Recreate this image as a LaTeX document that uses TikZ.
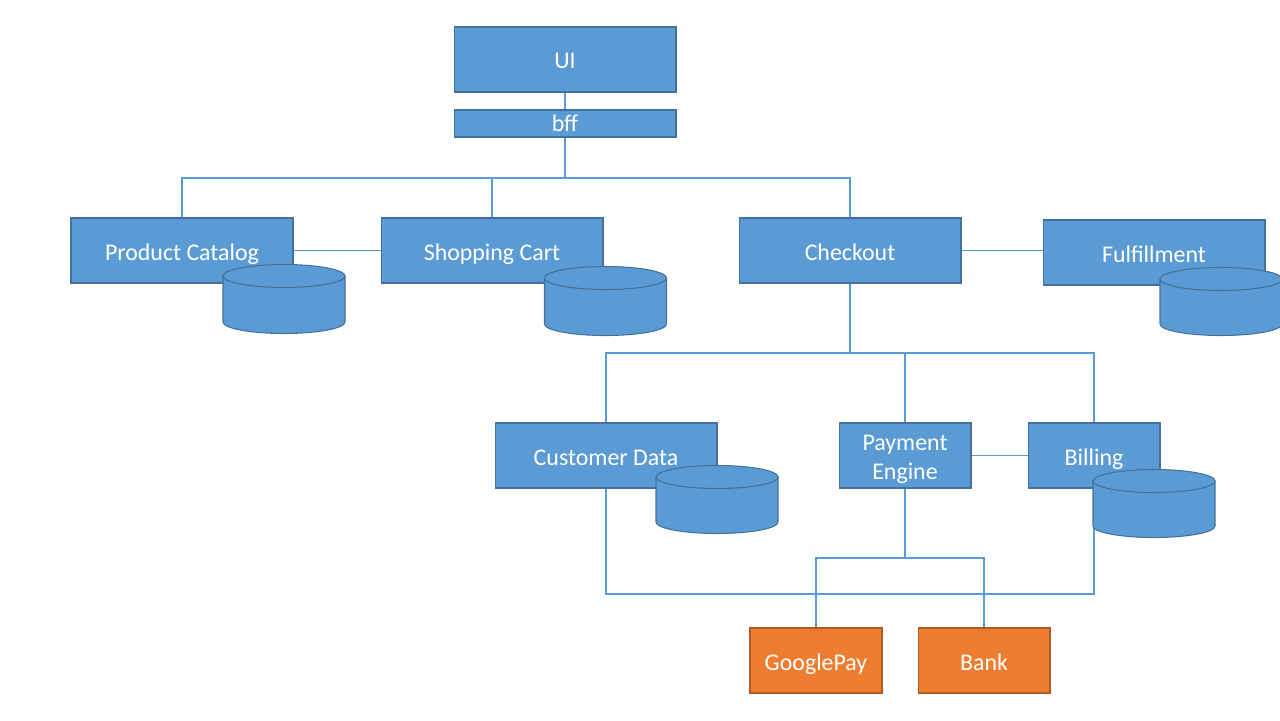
\documentclass[tikz,border=0pt]{standalone}
\usepackage{fontspec}
\setmainfont{Carlito}
\definecolor{boxblue}{RGB}{91, 155, 213}
\definecolor{boxedge}{RGB}{65, 113, 156}
\definecolor{extorange}{RGB}{237, 125, 49}
\definecolor{extedge}{RGB}{174, 90, 33}
\usepackage{tikz}

\tikzset{
  pics/dbstore/.style={code={
    \filldraw[fill=boxblue, draw=boxedge, line width=0.6pt]
      (-61,0) -- (-61,#1) arc[start angle=180, end angle=0, x radius=61, y radius=11.5] -- (61,0) -- cycle;
    \filldraw[fill=boxblue, draw=boxedge, line width=0.6pt] (0,0) ellipse [x radius=61, y radius=11.5];
  }}
}

\begin{document}
\begin{tikzpicture}[x=0.02cm, y=-0.02cm,
    service/.style={draw=boxedge, fill=boxblue, line width=0.6pt, text=white, inner sep=0pt,
      minimum width=4.44cm, minimum height=1.3cm, align=center,
      text height=0.38cm, text depth=0pt, font=\fontsize{13.6}{16.5}\selectfont},
    smallsvc/.style={service, minimum width=2.64cm},
    external/.style={smallsvc, draw=extedge, fill=extorange},
    link/.style={draw=boxblue, line width=0.6pt}]
  \useasboundingbox (0,0) rectangle (1280,720);

  % Front end
  \node[service] (ui) at (565, 59.5) {UI};
  \node[service, minimum height=0.54cm, text height=0.3cm] (bff) at (565, 123.5) {bff};

  % Core services
  \node[service] (catalog) at (182, 250.5) {Product Catalog};
  \node[service] (cart) at (492, 250.5) {Shopping Cart};
  \node[service] (checkout) at (850, 250.5) {Checkout};
  \node[service] (fulfil) at (1154, 252.5) {Fulfillment};

  % Checkout services
  \node[service] (customer) at (606, 455.5) {Customer Data};
  \node[smallsvc, text height=0.96cm] (payment) at (905, 455.5) {Payment\\Engine};
  \node[smallsvc] (billing) at (1094, 455.5) {Billing};

  % Payment providers
  \node[external] (gpay) at (816, 660.5) {GooglePay};
  \node[external] (bank) at (984, 660.5) {Bank};

  % Connectors
  \coordinate (topbus) at (565, 178);
  \coordinate (midbus) at (850, 353);
  \coordinate (lowbus) at (606, 594);
  \coordinate (paybus) at (905, 558);
  \draw[link] (ui.south) -- (bff.north);
  \draw[link] (bff.south) -- (topbus);
  \draw[link] (catalog.north) -- (catalog.north |- topbus) -- (checkout.north |- topbus) -- (checkout.north);
  \draw[link] (cart.north) -- (cart.north |- topbus);
  \draw[link] (catalog.east) -- (cart.west);
  \draw[link] (checkout.east) -- (checkout.east -| fulfil.west);
  \draw[link] (checkout.south) -- (midbus);
  \draw[link] (customer.north) -- (customer.north |- midbus) -- (billing.north |- midbus) -- (billing.north);
  \draw[link] (payment.north) -- (payment.north |- midbus);
  \draw[link] (payment.east) -- (billing.west);
  \draw[link] (customer.south) -- (lowbus) -- (lowbus -| billing.south) -- (billing.south);
  \draw[link] (payment.south) -- (paybus);
  \draw[link] (gpay.north) -- (gpay.north |- paybus) -- (bank.north |- paybus) -- (bank.north);

  % Data stores
  \pic at (284, 276) {dbstore=46};
  \pic at (605.5, 278) {dbstore=46};
  \pic at (1221, 279) {dbstore=45};
  \pic at (717, 477) {dbstore=45};
  \pic at (1154, 481) {dbstore=45};
\end{tikzpicture}
\end{document}
